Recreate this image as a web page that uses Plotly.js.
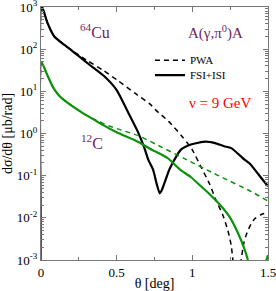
<!DOCTYPE html>
<html>
<head>
<meta charset="utf-8">
<script src="https://cdn.plot.ly/plotly-3.0.1.min.js"></script>
<style>html,body{margin:0;padding:0;background:#fff;}#chart{width:276px;height:291px;}</style>
</head>
<body>
<div id="chart"></div>
<script>
// Cu, FSI+ISI (solid black)
const thetaCuFsi = [0, 0.003, 0.01, 0.043, 0.088, 0.155, 0.2, 0.31, 0.42, 0.5, 0.568, 0.635, 0.68, 0.71, 0.74, 0.765, 0.785, 0.80, 0.823, 0.845, 0.868, 0.923, 0.99, 1.09, 1.15, 1.21, 1.257, 1.345, 1.379, 1.457, 1.5];
const cuFsi = [0.0008, 1000, 955, 417, 200, 126, 95.5, 45.7, 22.4, 10.7, 3.6, 1.2, 0.49, 0.234, 0.141, 0.063, 0.038, 0.047, 0.079, 0.132, 0.195, 0.41, 0.55, 0.64, 0.59, 0.50, 0.45, 0.24, 0.195, 0.087, 0.056];

// Cu, PWA (dashed black)
const thetaCuPwa = [0, 0.003, 0.01, 0.043, 0.088, 0.155, 0.2, 0.25, 0.31, 0.41, 0.51, 0.623, 0.723, 0.757, 0.845, 0.935, 0.968, 1.0, 1.057, 1.112, 1.157, 1.2, 1.235, 1.257, 1.268, 1.28, 1.295, 1.31, 1.323, 1.34, 1.357, 1.38, 1.412, 1.45, 1.5];
const cuPwa = [0.0008, 1000, 955, 417, 200, 126, 95.5, 72.4, 52.5, 31.6, 17.8, 8.9, 4.9, 3.63, 1.91, 0.83, 0.59, 0.41, 0.162, 0.066, 0.026, 0.012, 0.005, 0.0022, 0.001, 0.00032, 0.000001, 0.00032, 0.001, 0.0025, 0.004, 0.0063, 0.0095, 0.0117, 0.0135];

// C, FSI+ISI (solid green)
const thetaCFsi = [0, 0.005, 0.035, 0.079, 0.12, 0.168, 0.279, 0.35, 0.39, 0.5, 0.643, 0.723, 0.835, 0.923, 0.99, 1.057, 1.123, 1.19, 1.25, 1.3, 1.345, 1.37, 1.39, 1.44, 1.47, 1.49, 1.5];
const cFsi = [0.0008, 48, 27.5, 12.6, 7.9, 5.6, 3.0, 2.14, 1.74, 1.07, 0.63, 0.43, 0.263, 0.135, 0.093, 0.056, 0.034, 0.019, 0.01, 0.0045, 0.0018, 0.00089, 0.00025, 0.000001, 0.00025, 0.001, 0.0013];

// C, PWA (dashed green)
const thetaCPwa = [0, 0.005, 0.035, 0.079, 0.12, 0.168, 0.279, 0.35, 0.45, 0.532, 0.643, 0.8, 0.945, 1.168, 1.39, 1.5];
const cPwa = [0.0008, 48, 27.5, 12.6, 7.9, 5.6, 3.0, 2.19, 1.51, 1.2, 0.89, 0.47, 0.257, 0.102, 0.042, 0.025];

const yTickVals = [0.001, 0.01, 0.1, 1, 10, 100, 1000];
const yTickText = ['10<sup>-3</sup>', '10<sup>-2</sup>', '10<sup>-1</sup>', '10<sup>0</sup>', '10<sup>1</sup>', '10<sup>2</sup>', '10<sup>3</sup>'];
const xTickVals = [0, 0.5, 1, 1.5];
const xTickText = ['0', '0.5', '1', '1.5'];

const serif = 'Liberation Serif, Times New Roman, serif';
const green = '#0a930a';
const purple = '#6e1f5e';
const spl = {shape: 'spline', smoothing: 0.6};

const traces = [
  {x: thetaCuPwa, y: cuPwa, name: 'PWA', mode: 'lines', line: Object.assign({color: '#000', width: 1.5, dash: '5px,4px'}, spl), showlegend: true, legend: 'legend'},
  {x: thetaCuFsi, y: cuFsi, name: 'FSI+ISI', mode: 'lines', line: Object.assign({color: '#000', width: 2.2}, spl), showlegend: true, legend: 'legend2'},
  {x: thetaCPwa, y: cPwa, name: 'C PWA', mode: 'lines', line: Object.assign({color: green, width: 1.5, dash: '5px,4px'}, spl), showlegend: false},
  {x: thetaCFsi, y: cFsi, name: 'C FSI', mode: 'lines', line: Object.assign({color: green, width: 2.2}, spl), showlegend: false}
];

const legFont = {family: serif, size: 11, color: '#000'};
const ann = (x, y, text, size, color) => ({xref: 'paper', yref: 'paper', x: x, y: y, xanchor: 'center', yanchor: 'middle',
  text: text, showarrow: false, font: {family: serif, size: size, color: color}});
const layout = {
  width: 276, height: 291,
  margin: {l: 41, r: 8, t: 7, b: 31, autoexpand: false},
  paper_bgcolor: '#fff', plot_bgcolor: '#fff',
  font: {family: serif, size: 12, color: '#000'},
  showlegend: true,
  legend: {x: 0.48, y: 0.79, xanchor: 'left', yanchor: 'middle', bgcolor: 'rgba(0,0,0,0)', borderwidth: 0, font: legFont},
  legend2: {x: 0.48, y: 0.731, xanchor: 'left', yanchor: 'middle', bgcolor: 'rgba(0,0,0,0)', borderwidth: 0, font: legFont},
  xaxis: {
    range: [0, 1.5], tickmode: 'array', tickvals: xTickVals, ticktext: xTickText,
    ticks: 'inside', ticklen: 5, tickcolor: '#777', showline: true, linecolor: '#777', linewidth: 1,
    mirror: 'ticks', showgrid: false, zeroline: false, automargin: false, ticklabeloverflow: 'allow',
    minor: {dtick: 0.25, tickmode: 'linear', tick0: 0, ticks: 'inside', ticklen: 3, tickcolor: '#777', showgrid: false},
    tickfont: {family: serif, size: 13}, title: {text: 'θ [deg]', font: {family: serif, size: 14}, standoff: 4}
  },
  yaxis: {
    type: 'log', range: [-3, 3], tickmode: 'array', tickvals: yTickVals, ticktext: yTickText,
    ticks: 'inside', ticklen: 5, tickcolor: '#777', showline: true, linecolor: '#777', linewidth: 1,
    mirror: 'ticks', showgrid: false, zeroline: false, automargin: false, ticklabeloverflow: 'allow',
    minor: {dtick: 'D1', ticks: 'inside', ticklen: 3, tickcolor: '#777', showgrid: false},
    tickfont: {family: serif, size: 13}, title: {text: 'dσ/dθ [μb/rad]', font: {family: serif, size: 14}, standoff: 2}
  },
  annotations: [
    ann(0.238, 0.905, '<sup>64</sup>Cu', 16, purple),
    ann(0.225, 0.466, '<sup>12</sup>C', 16, purple),
    ann(0.767, 0.901, 'A(γ,π<sup>0</sup>)A', 15, purple),
    ann(0.789, 0.619, 'ν = 9 GeV', 15, '#ff0000')
  ]
};

Plotly.newPlot('chart', traces, layout, {staticPlot: true, displayModeBar: false});
</script>
</body>
</html>
